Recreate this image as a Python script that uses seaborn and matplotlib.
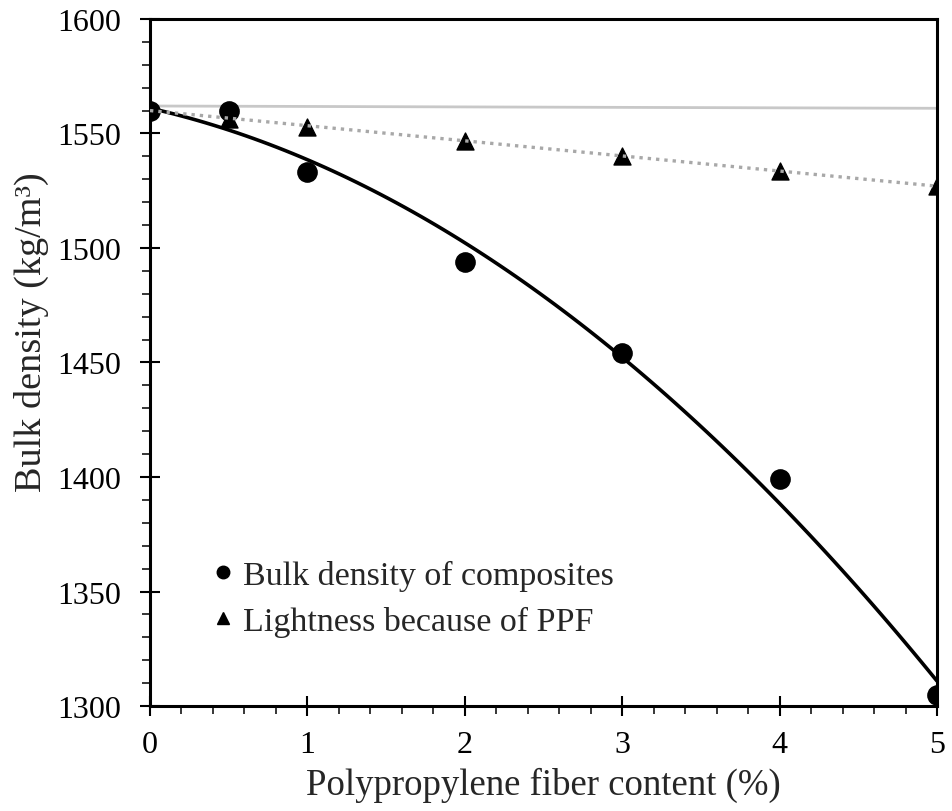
import numpy as np
import pandas as pd
import seaborn as sns
import matplotlib.pyplot as plt
from matplotlib.ticker import MultipleLocator
from matplotlib.lines import Line2D

# Valeurs
fiber = [0, 0.5, 1, 2, 3, 4, 5]
bulk_density = [1560, 1560, 1533, 1494, 1454, 1399, 1305]

fiber_ppf = [0.5, 1, 2, 3, 4, 5]
lightness = [1556.5, 1553, 1546.5, 1540, 1533.5, 1527]

line_x = [0, 5]
lightness_trend = [1560, 1527]
reference_line = [1562, 1561]

sns.set_style('ticks')
plt.rcParams['font.family'] = ['Liberation Serif', 'DejaVu Serif']

df = pd.DataFrame({'fiber': fiber, 'density': bulk_density})
df_ppf = pd.DataFrame({'fiber': fiber_ppf, 'density': lightness})

fig = plt.figure(figsize=(9.53, 8.12), dpi=100)
ax = fig.add_axes([0.1574, 0.1293, 0.8258, 0.8461])

# Ligne grise (densité sans fibres)
sns.lineplot(x=line_x, y=reference_line, color='#c8c8c8', lw=2, ax=ax, zorder=1)

# Courbe polynomiale d'ordre 2 sur les composites
sns.regplot(data=df, x='fiber', y='density', order=2, ci=None, scatter=False,
            color='black', line_kws={'lw': 2.6, 'zorder': 2}, ax=ax)

# Points
sns.scatterplot(data=df, x='fiber', y='density', marker='o', s=190,
                color='black', edgecolor='black', ax=ax, zorder=3)
sns.scatterplot(data=df_ppf, x='fiber', y='density', marker='^', s=150,
                color='black', edgecolor='black', ax=ax, zorder=3)

# Tendance pointillée (légèreté due aux PPF)
sns.lineplot(x=line_x, y=lightness_trend, color='#a8a8a8', lw=2.4,
             linestyle=(0, (1, 1.5)), ax=ax, zorder=4)

ax.set_xlim(0, 5)
ax.set_ylim(1300, 1600)
ax.xaxis.set_major_locator(MultipleLocator(1))
ax.xaxis.set_minor_locator(MultipleLocator(0.2))
ax.yaxis.set_major_locator(MultipleLocator(50))
ax.yaxis.set_minor_locator(MultipleLocator(10))

ax.tick_params(which='major', direction='inout', length=14, width=1.5,
               labelsize=23, colors='black')
ax.tick_params(axis='x', which='major', pad=10)
ax.tick_params(axis='y', which='major', pad=14)
ax.tick_params(which='minor', direction='out', length=5.5, width=1.3)

for s in ax.spines.values():
    s.set_linewidth(2.2)
    s.set_color('black')

ax.set_xlabel('Polypropylene fiber content (%)', fontsize=26.5, labelpad=6)
ax.set_ylabel('Bulk density (kg/m³)', fontsize=27.5)
ax.yaxis.set_label_coords(-0.128, 0.546)

handles = [
    Line2D([], [], marker='o', color='black', linestyle='none', markersize=9),
    Line2D([], [], marker='^', color='black', linestyle='none', markersize=9),
]
ax.legend(handles, ['Bulk density of composites', 'Lightness because of PPF'],
          loc='lower left', bbox_to_anchor=(0.032, 0.056), frameon=False,
          fontsize=24.5, handletextpad=0.1, handlelength=1.0, labelspacing=0.45)

fig.savefig('out.png', dpi=100)
